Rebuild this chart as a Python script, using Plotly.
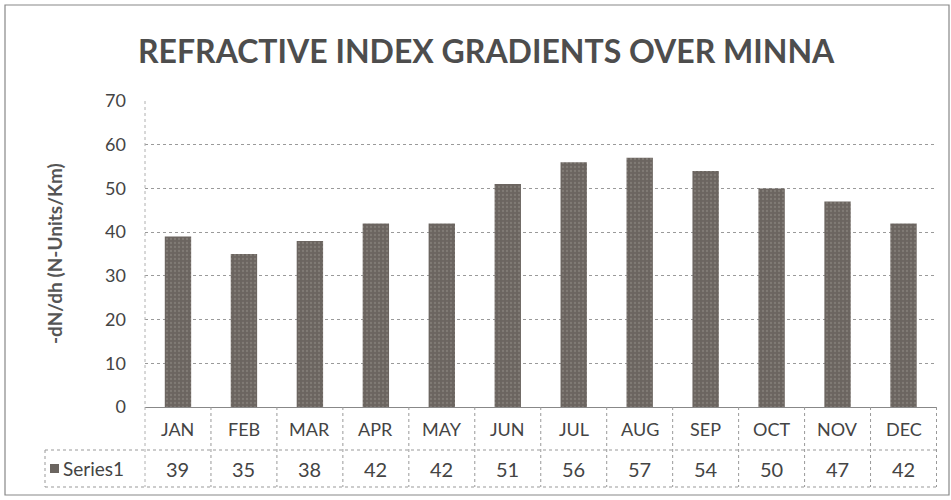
import plotly.graph_objects as go

months = ["JAN", "FEB", "MAR", "APR", "MAY", "JUN", "JUL", "AUG", "SEP", "OCT", "NOV", "DEC"]
values = [39, 35, 38, 42, 42, 51, 56, 57, 54, 50, 47, 42]
series_name = "Series1"
title_text = "REFRACTIVE INDEX GRADIENTS OVER MINNA"
y_title = "-dN/dh (N-Units/Km)"
y_ticks = [0, 10, 20, 30, 40, 50, 60, 70]

W, H = 951, 500
PX_L, PX_R = 145, 937
PX_TOP, PX_BOT = 101, 407
ROW1, ROW2 = 450, 487
SER_L = 45

def fx(px):
    return px / W

def fy(py):
    return 1 - py / H

BAR = "#6b6560"
TXT = "#444444"
GRID = "#9a9a9a"
FONT = "Lato, 'Open Sans', sans-serif"

fig = go.Figure()
fig.add_trace(go.Bar(
    x=months, y=values, name=series_name,
    marker=dict(color=BAR, line=dict(width=0),
                pattern=dict(shape=".", fgcolor="#958f89", bgcolor=BAR, size=4, solidity=0.25)),
    showlegend=False,
))

shapes = []
shapes.append(dict(type="rect", xref="paper", yref="paper", x0=fx(5), x1=fx(949), y0=fy(5), y1=fy(495),
                   line=dict(color="#888888", width=1.2)))
shapes.append(dict(type="line", xref="paper", yref="paper", x0=fx(PX_L), x1=fx(PX_L), y0=fy(PX_TOP), y1=fy(ROW2),
                   line=dict(color="#b0b0b0", width=1, dash="dot")))
shapes.append(dict(type="line", xref="paper", yref="paper", x0=fx(SER_L), x1=fx(PX_R), y0=fy(ROW1), y1=fy(ROW1),
                   line=dict(color="#999999", width=1, dash="dot")))
shapes.append(dict(type="line", xref="paper", yref="paper", x0=fx(SER_L), x1=fx(PX_R), y0=fy(ROW2), y1=fy(ROW2),
                   line=dict(color="#999999", width=1, dash="dot")))
shapes.append(dict(type="line", xref="paper", yref="paper", x0=fx(SER_L), x1=fx(SER_L), y0=fy(ROW1), y1=fy(ROW2),
                   line=dict(color="#999999", width=1, dash="dot")))
for i in range(len(months)):
    xv = i + 0.5
    shapes.append(dict(type="line", xref="x", yref="paper", x0=xv, x1=xv, y0=fy(PX_BOT), y1=fy(ROW2),
                       line=dict(color="#999999", width=1, dash="dot")))
# legend key square for the data table
shapes.append(dict(type="rect", xref="paper", yref="paper", x0=fx(50), x1=fx(59), y0=fy(473), y1=fy(464),
                   line=dict(width=0), fillcolor=BAR))

annotations = []
annotations.append(dict(text=title_text, xref="paper", yref="paper", x=fx(486), y=fy(51),
                        showarrow=False, font=dict(family=FONT, size=32, color="#4d4d4d", weight="bold"),
                        xanchor="center", yanchor="middle"))
annotations.append(dict(text=y_title, xref="paper", yref="paper", x=fx(54), y=fy(254),
                        showarrow=False, textangle=-90, font=dict(family=FONT, size=19, color="#555555", weight="bold"),
                        xanchor="center", yanchor="middle"))
for m, v in zip(months, values):
    annotations.append(dict(text=m, xref="x", yref="paper", x=m, y=fy(429),
                            showarrow=False, font=dict(family=FONT, size=18, color=TXT),
                            xanchor="center", yanchor="middle"))
    annotations.append(dict(text=str(v), xref="x", yref="paper", x=m, y=fy(469),
                            showarrow=False, font=dict(family=FONT, size=20, color=TXT),
                            xanchor="center", yanchor="middle"))
annotations.append(dict(text=series_name, xref="paper", yref="paper",
                        x=fx(61), y=fy(468), showarrow=False,
                        font=dict(family=FONT, size=19, color=TXT), xanchor="left", yanchor="middle"))

fig.update_layout(
    width=W, height=H,
    margin=dict(l=0, r=0, t=0, b=0, pad=0, autoexpand=False),
    paper_bgcolor="white", plot_bgcolor="white",
    bargap=0.6,
    xaxis=dict(domain=[fx(PX_L), fx(PX_R)], showticklabels=False, showgrid=False, ticks="",
               showline=True, linecolor="#888888", linewidth=1, zeroline=False, fixedrange=True),
    yaxis=dict(domain=[fy(PX_BOT), fy(PX_TOP)], range=[0, 70], tickvals=y_ticks,
               showgrid=True, gridcolor=GRID, griddash="dot", gridwidth=1,
               zeroline=False, showline=False, ticks="", ticklabelstandoff=18,
               tickfont=dict(family=FONT, size=18, color=TXT), fixedrange=True),
    shapes=shapes, annotations=annotations,
    showlegend=False,
)

fig.write_html("out.html", config={"displayModeBar": False},
               post_script="document.body.style.margin='0px';document.body.style.overflow='hidden';")
